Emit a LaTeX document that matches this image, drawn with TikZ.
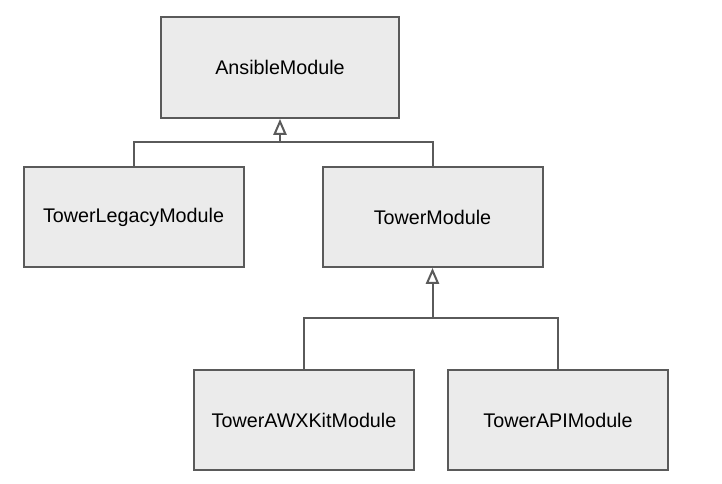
\documentclass[tikz,border=0pt]{standalone}
\usepackage{fontspec}
\setmainfont{Liberation Sans}
\usetikzlibrary{arrows.meta}
\definecolor{boxfill}{HTML}{EBEBEB}
\definecolor{boxline}{HTML}{5A5A5A}

\begin{document}
\begin{tikzpicture}
[x=0.75pt,y=-0.75pt,%
  every node/.style={shape=rectangle,draw=boxline,fill=boxfill,line width=1.5pt,
    minimum width=165pt,minimum height=75pt,font=\fontsize{14.8}{18}\selectfont},%
  inherit/.style={boxline,line width=1.5pt,-{Triangle[open,length=12pt,width=10pt]}}]
\useasboundingbox (0,0) rectangle (722,484);
\node[minimum width=178.5pt,minimum height=75.75pt] (ansible) at (280,67.5) {AnsibleModule};
\node (legacy) at (133.5,217) {TowerLegacyModule};
\node (tower) at (432.5,217) {TowerModule};
\node (awxkit) at (304,420) {TowerAWXKitModule};
\node (api) at (558,420) {TowerAPIModule};
\coordinate (top) at (280,142);
\coordinate (mid) at (432.5,318);
\draw[boxline,line width=1.5pt] (legacy.north) |- (top) -| (tower.north);
\draw[inherit] (top) -- (ansible.south);
\draw[boxline,line width=1.5pt] (awxkit.north) |- (mid) -| (api.north);
\draw[inherit] (mid) -- (tower.south);
\end{tikzpicture}
\end{document}
